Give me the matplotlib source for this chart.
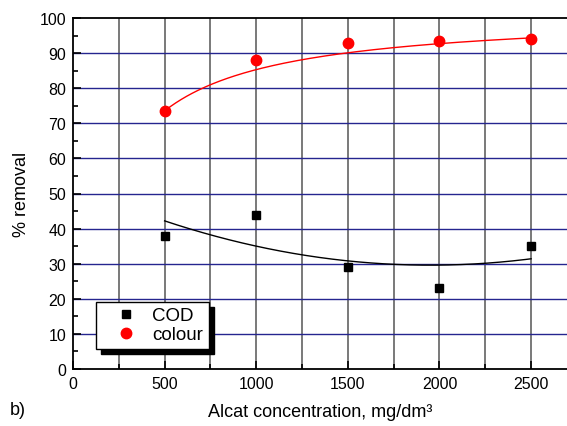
import numpy as np
import matplotlib.pyplot as plt

plt.rcParams['font.family'] = ['Liberation Sans', 'DejaVu Sans']

# measured data
dose = np.array([500, 1000, 1500, 2000, 2500])
cod = np.array([38, 44, 29, 23, 35])
colour = np.array([73.5, 88, 93, 93.5, 94])

# quadratic fit for COD
p_cod = np.polyfit(dose, cod, 2)

# saturation curve for colour, y = a*x/(b+x), parameters
col_a = 101.5
col_b = 190.0

xs = np.linspace(500, 2500, 200)

fig = plt.figure(figsize=(5.67, 4.27), dpi=100)
ax = fig.add_axes([73 / 567, 1 - 370 / 427, 1 - 73 / 567, 351 / 427])

# grid
for gx in np.arange(250, 2700, 250):
    ax.axvline(gx, color='#555555', lw=1.1, zorder=1)
for gy in np.arange(10, 100, 10):
    ax.axhline(gy, color='#25258f', lw=1.0, zorder=1)

ax.plot(xs, np.polyval(p_cod, xs), color='black', lw=1.0, zorder=2)
ax.plot(xs, col_a * xs / (col_b + xs), color='red', lw=1.0, zorder=2)

ax.plot(dose, cod, 's', color='black', ms=6, label='COD', zorder=3)
ax.plot(dose, colour, 'o', color='red', ms=7.5, label='colour', zorder=3)

ax.set_xlim(0, 2696)
ax.set_ylim(0, 100)
ax.set_xticks(np.arange(0, 2501, 500))
ax.set_xticks(np.arange(250, 2700, 500), minor=True)
ax.set_yticks(np.arange(0, 101, 10))
ax.set_yticks(np.arange(5, 100, 10), minor=True)
ax.tick_params(which='major', direction='in', length=6, width=1.2, labelsize=11.5, pad=5)
ax.tick_params(which='minor', direction='in', length=3.5, width=1.2)
ax.spines['right'].set_visible(False)
for s in ['left', 'bottom', 'top']:
    ax.spines[s].set_linewidth(1.3)

ax.set_xlabel('Alcat concentration, mg/dm³', fontsize=13, labelpad=9)
ax.set_ylabel('% removal', fontsize=13, labelpad=7)
fig.text(10 / 567, 1 - 411 / 427, 'b)', fontsize=13, va='center')

leg = ax.legend(loc='lower left', bbox_to_anchor=(0.0466, 0.057), borderaxespad=0,
                fontsize=13.5, fancybox=False, framealpha=1, edgecolor='black',
                shadow={'color': 'black', 'alpha': 1, 'ox': 3.6, 'oy': -3.6},
                handletextpad=0.1, borderpad=0.3, labelspacing=0.1, handlelength=2.6)
leg.get_frame().set_linewidth(1.0)

fig.savefig('out.png', dpi=100)
